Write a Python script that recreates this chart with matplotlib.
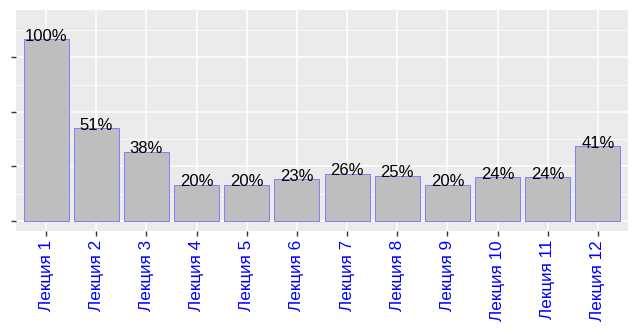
import matplotlib
matplotlib.use("Agg")
import matplotlib.pyplot as plt
from matplotlib.ticker import MultipleLocator

lectures = [f"Лекция {i}" for i in range(1, 13)]
shares = [100, 51, 38, 20, 20, 23, 26, 25, 20, 24, 24, 41]
labels = [f"{v}%" for v in shares]

plt.rcParams["font.family"] = ["Liberation Sans", "DejaVu Sans"]

fig = plt.figure(figsize=(6.4, 3.34), dpi=100)
ax = fig.add_axes([16 / 640, 1 - 231 / 334, 612 / 640, 221 / 334])
ax.set_facecolor("#ebebeb")

x = range(len(lectures))
ax.bar(x, shares, width=0.9, color="#bebebe", edgecolor="#7f7fff",
       linewidth=0.7, zorder=3)
for xi, v, lab in zip(x, shares, labels):
    ax.text(xi, v - 0.8, lab, ha="center", va="baseline", fontsize=12,
            color="black", zorder=4)

ax.set_xlim(-0.6, len(lectures) - 0.4)
ax.set_ylim(-5.5, 116)
ax.set_xticks(list(x))
ax.set_xticklabels(lectures, rotation=90, color="blue", fontsize=12.3)
ax.yaxis.set_major_locator(MultipleLocator(30))
ax.yaxis.set_minor_locator(MultipleLocator(15))
ax.set_yticklabels([])
ax.tick_params(axis="both", which="major", length=3.5, width=1,
               color="#333333", pad=3)
ax.tick_params(axis="y", which="minor", length=0)

ax.grid(True, which="major", color="white", linewidth=1.1, zorder=0)
ax.grid(True, which="minor", axis="y", color="white", linewidth=0.55, zorder=0)
ax.set_axisbelow(True)
for s in ax.spines.values():
    s.set_visible(False)

fig.savefig("out.png", dpi=100)
